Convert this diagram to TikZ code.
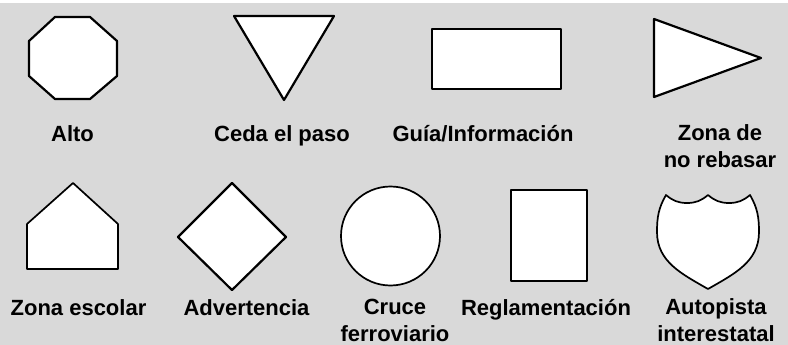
\documentclass[tikz,border=0pt]{standalone}
\usepackage{fontspec}
\setmainfont{Liberation Sans}
\usepackage{xcolor}
\usetikzlibrary{positioning}
\definecolor{panelgray}{HTML}{D9D9D9}

\begin{document}
\begin{tikzpicture}[x=1pt, y=-1pt,
    sign/.style={draw=black, fill=white, line width=2.2pt, line join=round},
    thinsign/.style={draw=black, fill=white, line width=1.7pt, line join=round},
    signname/.style={anchor=base, align=center, inner sep=0pt, font=\fontsize{22}{27}\selectfont\bfseries}]

    \useasboundingbox (0,0) rectangle (788,345);
    \fill[panelgray] (0,0) rectangle (788,345);
    \fill[white] (0,0) rectangle (788,3);

    % top row
    \draw[sign] (55,17) -- (90,17) -- (117,41) -- (117,76) -- (90,99) -- (55,99) -- (29,76) -- (29,41) -- cycle;
    \draw[sign] (234,16) -- (334,16) -- (284,100) -- cycle;
    \draw[sign] (432,29) rectangle (561,89);
    \draw[sign] (654,19) -- (761,58) -- (654,97) -- cycle;

    % two-line names sit on the baseline of their last line
    \node[signname] (alto) at (72.5,141) {Alto};
    \node[signname] (ceda) at (282,141) {Ceda el paso};
    \node[signname] (guia) at (483,141) {Guía/Información};
    \node[signname] (rebasar) at (720,167) {Zona de\\no rebasar};

    % bottom row
    \draw[thinsign] (73,183) -- (118,224) -- (118,269) -- (27,269) -- (27,224) -- cycle;
    \draw[sign] (232,183) -- (286,237) -- (232,290) -- (178,237) -- cycle;
    \draw[thinsign] (390.5,236) circle (49.5);
    \draw[sign] (511,190) rectangle (587,281);
    \draw[thinsign] (666,195) to[out=-40,in=180] (687,203) to[out=0,in=-140] (708,195)
        to[out=-40,in=180] (729,203) to[out=0,in=-140] (750,195)
        to[out=-60,in=90] (759,232) to[out=-90,in=30] (708,289)
        to[out=150,in=-90] (657,232) to[out=90,in=-120] cycle;

    \node[signname] (escolar) at (78.5,315) {Zona escolar};
    \node[signname] (advertencia) at (246.5,315) {Advertencia};
    \node[signname] (cruce) at (395,341.5) {Cruce\\ferroviario};
    \node[signname] (reglamento) at (546,315) {Reglamentación};
    \node[signname] (autopista) at (716,341.5) {Autopista\\interestatal};
\end{tikzpicture}
\end{document}
